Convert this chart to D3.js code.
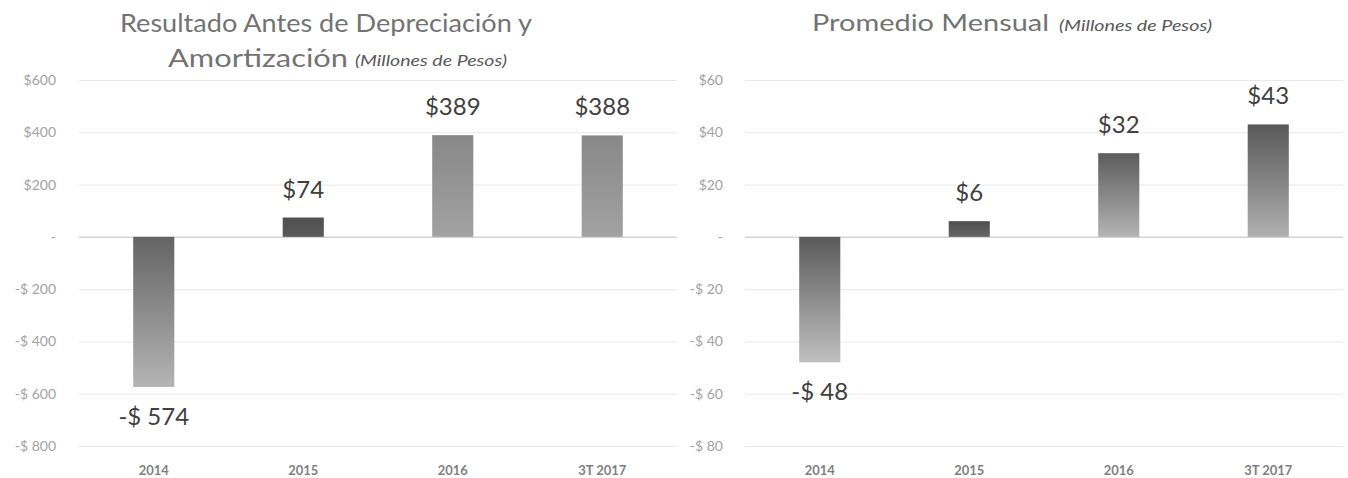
<!DOCTYPE html>
<html>
<head>
<meta charset="utf-8">
<script src="https://cdn.jsdelivr.net/npm/d3@7"></script>
<style>
  body { margin: 0; background: #fff; }
  text { font-family: Lato, "Open Sans", sans-serif; }
</style>
</head>
<body>
<div class="canvas"></div>
<script>
// data.
const categories = ['2014', '2015', '2016', '3T 2017'];
const ebitdaValues = [-574, 74, 389, 388];
const ebitdaLabels = ['-$ 574', '$74', '$389', '$388'];
const ebitdaTicks = [600, 400, 200, 0, -200, -400, -600, -800];
const ebitdaTickLabels = ['$600', '$400', '$200', '-', '-$ 200', '-$ 400', '-$ 600', '-$ 800'];
const monthlyValues = [-48, 6, 32, 43];
const monthlyLabels = ['-$ 48', '$6', '$32', '$43'];
const monthlyTicks = [60, 40, 20, 0, -20, -40, -60, -80];
const monthlyTickLabels = ['$60', '$40', '$20', '-', '-$ 20', '-$ 40', '-$ 60', '-$ 80'];

// bar shading (top colour, bottom colour) per category.
const ebitdaShades = [['#646464', '#b4b4b4'], ['#505050', '#5a5a5a'], ['#888888', '#a2a2a2'], ['#888888', '#a2a2a2']];
const monthlyShades = [['#5a5a5a', '#c0c0c0'], ['#4e4e4e', '#666666'], ['#5c5c5c', '#b4b4b4'], ['#585858', '#b0b0b0']];

const svg = d3.select('.canvas')
    .append('svg')
        .attr('width', 1348)
        .attr('height', 478);

const defs = svg.append('defs');

const drawChart = (opts) => {
    const x = d3.scaleBand()
        .domain(categories)
        .range(opts.xRange)
        .paddingInner(0.725)
        .paddingOuter(0.3625);

    const y = d3.scaleLinear()
        .domain(d3.extent(opts.ticks))
        .range([446, 80]);

    const g = svg.append('g');

    // gridlines
    g.append('g')
        .attr('transform', `translate(${opts.xRange[0]},0)`)
        .call(d3.axisLeft(y).tickValues(opts.ticks).tickSize(-(opts.xRange[1] - opts.xRange[0])).tickFormat(''))
        .call(s => s.select('.domain').remove())
        .call(s => s.selectAll('line')
            .attr('stroke', d => d === 0 ? '#d4d4d4' : '#e8e8e8')
            .attr('stroke-width', d => d === 0 ? 1.5 : 1));

    // tick labels
    g.append('g')
        .attr('transform', `translate(${opts.labelX},0)`)
        .call(d3.axisLeft(y).tickValues(opts.ticks).tickSize(0).tickPadding(0)
            .tickFormat((d, i) => opts.tickLabels[i]))
        .call(s => s.select('.domain').remove())
        .call(s => s.selectAll('text')
            .attr('fill', '#a2a2a2')
            .style('font-size', '14px'));

    // category labels
    g.append('g')
        .attr('transform', `translate(0,${466})`)
        .call(d3.axisBottom(x).tickSize(0).tickPadding(0))
        .call(s => s.select('.domain').remove())
        .call(s => s.selectAll('text')
            .attr('fill', '#7f7f7f')
            .style('font-size', '13px')
            .style('font-weight', 'bold'));

    // gradients
    opts.shades.forEach((c, i) => {
        const grad = defs.append('linearGradient')
            .attr('id', `${opts.id}-grad-${i}`)
            .attr('x1', 0).attr('y1', 0).attr('x2', 0).attr('y2', 1);
        grad.append('stop').attr('offset', '0%').attr('stop-color', c[0]);
        grad.append('stop').attr('offset', '100%').attr('stop-color', c[1]);
    });

    // bars
    g.selectAll('rect.bar')
        .data(opts.values)
        .enter()
        .append('rect')
            .attr('class', 'bar')
            .attr('x', (d, i) => x(categories[i]))
            .attr('width', x.bandwidth())
            .attr('y', d => y(Math.max(0, d)))
            .attr('height', d => Math.abs(y(d) - y(0)))
            .attr('fill', (d, i) => `url(#${opts.id}-grad-${i})`);

    // value labels
    g.selectAll('text.value')
        .data(opts.values)
        .enter()
        .append('text')
            .attr('class', 'value')
            .attr('x', (d, i) => x(categories[i]) + x.bandwidth() / 2)
            .attr('y', d => d >= 0 ? y(d) - 20 : y(d) + 38)
            .attr('text-anchor', 'middle')
            .attr('fill', '#404040')
            .style('font-size', '24px')
            .text((d, i) => opts.labels[i]);
};

drawChart({ id: 'ebitda', xRange: [79, 677], labelX: 56, values: ebitdaValues, labels: ebitdaLabels,
    ticks: ebitdaTicks, tickLabels: ebitdaTickLabels, shades: ebitdaShades });
drawChart({ id: 'monthly', xRange: [745, 1343], labelX: 723, values: monthlyValues, labels: monthlyLabels,
    ticks: monthlyTicks, tickLabels: monthlyTickLabels, shades: monthlyShades });

// titles, each piece stretched to the width it has in the picture
const titlePiece = (txt, x, y, w, size, italic) => svg.append('text')
    .attr('x', x).attr('y', y)
    .attr('textLength', w).attr('lengthAdjust', 'spacingAndGlyphs')
    .attr('fill', italic ? '#595959' : '#737373')
    .style('font-size', size + 'px')
    .style('font-style', italic ? 'italic' : 'normal')
    .text(txt);

titlePiece('Resultado Antes de Depreciación y', 120, 32, 412, 25, false);
titlePiece('Amortización', 168, 67, 180, 25, false);
titlePiece('(Millones de Pesos)', 355, 66, 152, 15, true);
titlePiece('Promedio Mensual', 812, 31, 237, 24, false);
titlePiece('(Millones de Pesos)', 1059, 31, 153, 15, true);
</script>
</body>
</html>
